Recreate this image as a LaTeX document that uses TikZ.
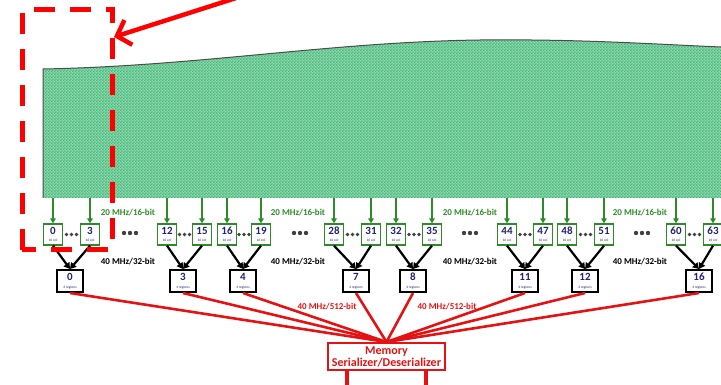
\documentclass[tikz,border=0pt]{standalone}
\usepackage{fontspec}
\setmainfont{Carlito}
\usetikzlibrary{arrows.meta,patterns,calc}

\definecolor{fieldlight}{RGB}{140,218,176}
\definecolor{fielddark}{RGB}{72,180,118}
\definecolor{busgreen}{RGB}{45,140,40}
\definecolor{numblue}{RGB}{35,35,115}
\definecolor{busred}{RGB}{228,18,18}

% small checks for the pixel field
\pgfdeclarepatternformonly{finechecks}{\pgfpointorigin}{\pgfqpoint{2.8pt}{2.8pt}}
  {\pgfqpoint{2.8pt}{2.8pt}}{%
  \pgfpathrectangle{\pgfpointorigin}{\pgfqpoint{1.4pt}{1.4pt}}%
  \pgfpathrectangle{\pgfqpoint{1.4pt}{1.4pt}}{\pgfqpoint{1.4pt}{1.4pt}}%
  \pgfusepath{fill}}

\tikzset{
  colbox/.style={draw=busgreen, line width=1.3pt, fill=white,
    minimum width=19pt, minimum height=21pt, inner sep=0pt},
  regbox/.style={draw=black, line width=2pt, fill=white,
    minimum width=26pt, minimum height=22pt, inner sep=0pt},
  numtxt/.style={anchor=base, inner sep=0pt, text=numblue,
    font=\fontsize{11}{11}\selectfont\bfseries},
  tinytxt/.style={anchor=base, inner sep=0pt, text=numblue,
    font=\fontsize{3.6}{4}\selectfont},
  buslabel/.style={inner sep=0pt, font=\fontsize{9}{9}\selectfont\bfseries},
  inbus/.style={busgreen, line width=1.6pt, -{Triangle[length=5pt,width=5.5pt]}},
  midbus/.style={black, line width=2.2pt, -{Triangle[length=6pt,width=7pt]}},
  outbus/.style={busred, line width=2.6pt},
  dot/.style={circle, fill=black!75, inner sep=0pt, minimum size=#1},
}

\begin{document}
\begin{tikzpicture}[x=1pt, y=-1pt]
  \useasboundingbox (0,0) rectangle (721,385);
  \clip (0,0) rectangle (721,385);

  % pixel field
  \path[preaction={fill=fieldlight}, pattern=finechecks, pattern color=fielddark]
    (43,198) -- (43,69) .. controls (200,66) and (330,42) .. (480,40)
    .. controls (580,39) and (650,44) .. (721,47) -- (721,198) -- cycle;
  \draw[black!70, line width=1pt]
    (43,198) -- (43,69) .. controls (200,66) and (330,42) .. (480,40)
    .. controls (580,39) and (650,44) .. (721,47);
  \coordinate (gbot) at (0,198);

  % memory block
  \node[draw=busred, line width=2pt, fill=white, minimum width=117pt,
    minimum height=27pt, inner sep=0pt, align=center, text=busred,
    font=\fontsize{12}{12}\selectfont\bfseries] (mem) at (386.5,356.5)
    {Memory\\Serializer/Deserializer};
  \coordinate (leg1) at (347,390);
  \coordinate (leg2) at (426,390);
  \draw[busred, line width=4.5pt] (mem.south -| leg1) -- (leg1);
  \draw[busred, line width=4.5pt] (mem.south -| leg2) -- (leg2);

  % column groups
  \foreach \ca/\cb/\rg/\xa/\xb/\xr in {0/3/0/53/90/70, 12/15/3/167/202/183,
      16/19/4/227/261/243, 28/31/7/334/371/356, 32/35/8/396/432/413,
      44/47/11/507/543/525, 48/51/12/567/604/585, 60/63/16/676/713/699} {
    \node[colbox] (c\ca) at (\xa,234.5) {};
    \node[colbox] (c\cb) at (\xb,234.5) {};
    \node[regbox] (r\rg) at (\xr,281) {};
    \foreach \c in {\ca,\cb} {
      \draw[inbus] (c\c |- gbot) -- (c\c.north);
      \draw[midbus] (c\c.south) -- (r\rg.north);
      \node[numtxt] at ([yshift=-11.5pt]c\c.north) {\c};
      \node[tinytxt] at ([yshift=-18.5pt]c\c.north) {16 col};
    }
    \node[numtxt] at ([yshift=-11pt]r\rg.north) {\rg};
    \node[tinytxt] at ([yshift=-19pt]r\rg.north) {4 regions};
    \foreach \k in {-5,0,5}
      \node[dot=3.6pt] at ([xshift=\k pt]$(c\ca)!0.5!(c\cb)$) {};
    \draw[outbus] (r\rg.south) -- (mem.north);
  }

  % bus widths
  \foreach \x in {128,298,470,640} {
    \node[buslabel, text=busgreen] at (\x,213) {20 MHz/16-bit};
    \node[buslabel] at (\x,262) {40 MHz/32-bit};
  }
  \foreach \x in {130,300,470,642}
    \foreach \k in {-6,0,6}
      \node[dot=4.4pt] at (\x+\k,233) {};
  \node[buslabel, text=busred] at (327,307) {40 MHz/512-bit};
  \node[buslabel, text=busred] at (447,307) {40 MHz/512-bit};

  % zoomed corner
  \draw[red, line width=5pt, dash pattern=on 21pt off 15pt]
    (22,250) -- (22,9.5) -- (112.5,9.5) -- (112.5,250) -- cycle;
  \coordinate (pointer) at (236,-2);
  \coordinate (corner) at (114,37);
  \draw[red, line width=4.5pt, -{Straight Barb[length=12pt,width=26pt]}]
    (pointer) -- (corner);
\end{tikzpicture}
\end{document}
